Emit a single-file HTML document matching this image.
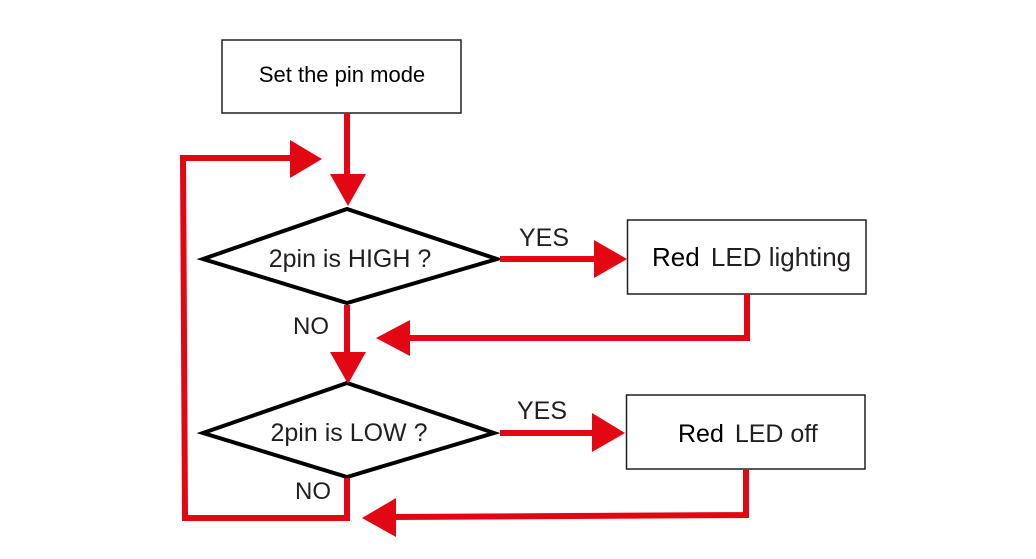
<!DOCTYPE html>
<html><head><meta charset="utf-8"><style>
html,body{margin:0;padding:0;background:#fff;}
svg{display:block;}
text{font-family:"Liberation Sans",sans-serif;fill:#231f20;}
</style></head><body>
<svg width="1036" height="559" viewBox="0 0 1036 559" xmlns="http://www.w3.org/2000/svg">
<g fill="none" stroke="#231f20" stroke-width="1.5">
<rect x="222" y="40" width="239" height="73" fill="#fff"/>
<rect x="627.5" y="220" width="238.5" height="74" fill="#fff"/>
<rect x="626.5" y="395" width="238.5" height="74" fill="#fff"/>
</g>
<g fill="none" stroke="#000" stroke-width="4">
<polygon points="203,259 347,209 497,259 347,303"/>
<polygon points="203,433 347,383 494,433 347,477"/>
</g>
<g fill="none" stroke="#e30613" stroke-width="6">
<polyline points="347,113 347,178"/>
<polyline points="292,158 183,158 185,518 347,518 347,478"/>
<polyline points="347,305 347,358"/>
<polyline points="500,259 598,259"/>
<polyline points="500,433 596,433"/>
<polyline points="747,294 747,338 405,338"/>
<polyline points="746,469 746,515 390,517"/>
</g>
<g fill="#e30613">
<polygon points="330,174 366,174 348,206"/>
<polygon points="290,140 322,159 290,178"/>
<polygon points="330,352 366,352 348,384"/>
<polygon points="594,240 627,259 594,278"/>
<polygon points="592,413 625,433 592,452"/>
<polygon points="410,320 376,338 410,356"/>
<polygon points="396,498 362,518 396,537"/>
</g>
<text x="342" y="82" font-size="22" text-anchor="middle" style="fill:#000">Set the pin mode</text>
<text x="350" y="267" font-size="25" text-anchor="middle">2pin is HIGH ?</text>
<text x="349" y="441" font-size="25" text-anchor="middle">2pin is LOW ?</text>
<text x="544" y="246" font-size="25" text-anchor="middle">YES</text>
<text x="542" y="419" font-size="25" text-anchor="middle">YES</text>
<text x="311" y="334" font-size="24" text-anchor="middle">NO</text>
<text x="313" y="499" font-size="24" text-anchor="middle">NO</text>
<text x="652" y="266" font-size="26" style="fill:#000">Red <tspan dx="4" style="fill:#231f20">LED lighting</tspan></text>
<text x="678" y="442" font-size="25" style="fill:#000">Red <tspan dx="4" style="fill:#231f20">LED off</tspan></text>
</svg>
</body></html>
